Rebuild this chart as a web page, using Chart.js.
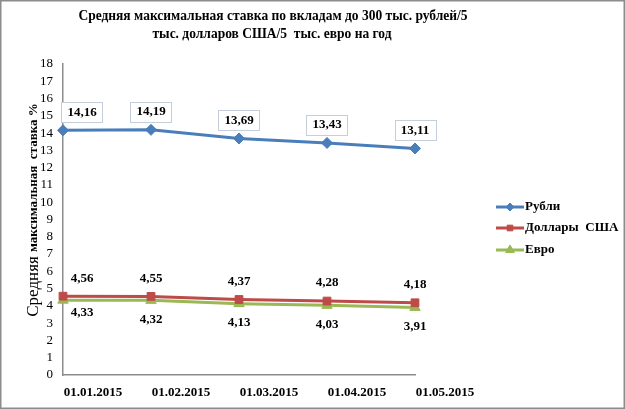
<!DOCTYPE html>
<html><head><meta charset="utf-8">
<script src="https://cdn.jsdelivr.net/npm/chart.js@4/dist/chart.umd.min.js"></script>
<style>html,body{margin:0;padding:0;background:#fff;}#wrap{width:625px;height:409px;}</style>
</head><body><div id="wrap"><canvas id="c" width="625" height="409"></canvas></div>
<script>
const categories = ['01.01.2015','01.02.2015','01.03.2015','01.04.2015','01.05.2015'];
const rub = [14.16, 14.19, 13.69, 13.43, 13.11];
const usd = [4.56, 4.55, 4.37, 4.28, 4.18];
const eur = [4.33, 4.32, 4.13, 4.03, 3.91];
const seriesNames = ['Рубли','Доллары  США','Евро'];
const yTicks = {min:0, max:18, step:1};
const titleLines = ['Средняя максимальная ставка по вкладам до 300 тыс. рублей/5','тыс. долларов США/5  тыс. евро на год'];

const SERIF = '"Liberation Serif","Times New Roman",serif';
const colors = ['#4a7ebb','#be4b48','#98b954'];
const markers = ['rectRot','rect','triangle'];
const labelPos = ['above','above','below'];

const fmt = v => v.toFixed(2).replace('.', ',');

const decor = {
  id:'decor',
  beforeDraw(chart){
    const ctx = chart.ctx;
    ctx.save();
    ctx.fillStyle = '#fff';
    ctx.fillRect(0,0,chart.width,chart.height);
    ctx.strokeStyle = '#8c8c8c';
    ctx.lineWidth = 1.5;
    ctx.strokeRect(0.75,0.75,chart.width-1.5,chart.height-1.5);
    ctx.restore();
  },
  afterDraw(chart){
    const ctx = chart.ctx;
    ctx.save();
    ctx.fillStyle = '#000';
    ctx.font = 'bold 15px ' + SERIF;
    ctx.textAlign = 'center';
    ctx.textBaseline = 'middle';
    const sx = 0.9;
    ctx.save(); ctx.translate(273, 16); ctx.scale(sx, 1); ctx.fillText(titleLines[0], 0, 0); ctx.restore();
    ctx.save(); ctx.translate(272, 34); ctx.scale(sx, 1); ctx.fillText(titleLines[1], 0, 0); ctx.restore();
    const p1 = 'Средняя ', p2 = 'максимальная  ставка %';
    const f1 = '17px ' + SERIF, f2 = 'bold 13px ' + SERIF;
    ctx.font = f1; const w1 = ctx.measureText(p1).width;
    ctx.font = f2; const w2 = ctx.measureText(p2).width;
    const total = w1 + w2;
    ctx.translate(34, 210);
    ctx.rotate(-Math.PI/2);
    ctx.textAlign = 'left';
    ctx.textBaseline = 'middle';
    ctx.font = f1; ctx.fillText(p1, -total/2, 0);
    ctx.font = f2; ctx.fillText(p2, -total/2 + w1, 0);
    ctx.restore();

    ctx.save();
    const lx = 496, ys = [207,228,250];
    chart.data.datasets.forEach((ds,i)=>{
      const y = ys[i];
      ctx.strokeStyle = ds.borderColor;
      ctx.fillStyle = ds.borderColor;
      ctx.lineWidth = 3;
      ctx.beginPath(); ctx.moveTo(lx, y); ctx.lineTo(lx+28, y); ctx.stroke();
      ctx.lineWidth = 1;
      Chart.helpers.drawPoint(ctx, {pointStyle: ds.pointStyle, radius: ds.pointStyle==='triangle'?5:4, borderWidth:1}, lx+14, y);
      ctx.fillStyle = '#000';
      ctx.font = 'bold 13px ' + SERIF;
      ctx.textAlign = 'left';
      ctx.textBaseline = 'middle';
      ctx.fillText(ds.label, lx+29, y);
    });
    ctx.restore();
  },
  afterDatasetsDraw(chart){
    const ctx = chart.ctx;
    ctx.save();
    ctx.font = 'bold 13px ' + SERIF;
    ctx.textAlign = 'center';
    ctx.textBaseline = 'middle';
    chart.data.datasets.forEach((ds,i)=>{
      const meta = chart.getDatasetMeta(i);
      meta.data.forEach((el,j)=>{
        const txt = fmt(ds.data[j]);
        let x = el.x, y = el.y;
        if (labelPos[i]==='above') { y -= 18; } else { y += (j===0 ? 12 : 19); }
        if (j===0) x += 19;
        if (i===0) {
          const w = ctx.measureText(txt).width + 12;
          ctx.fillStyle = '#fff';
          ctx.fillRect(x - w/2, y - 10, w, 20);
          ctx.strokeStyle = '#c5cfdc';
          ctx.lineWidth = 1;
          ctx.strokeRect(Math.round(x - w/2)+0.5, Math.round(y - 10)+0.5, Math.round(w), 20);
        }
        ctx.fillStyle = '#000';
        ctx.fillText(txt, x, y);
      });
    });
    ctx.restore();
  }
};

const series = [rub, usd, eur];
new Chart(document.getElementById('c'), {
  type:'line',
  data:{
    labels: categories,
    datasets: series.map((d,i)=>({
      label: seriesNames[i],
      data: d,
      borderColor: colors[i],
      backgroundColor: colors[i],
      borderWidth: 3,
      pointStyle: markers[i],
      pointRadius: i===2 ? 6 : 5.5,
      pointBorderWidth: 1,
      pointBorderColor: colors[i],
      pointBackgroundColor: colors[i],
      tension: 0,
      fill: false
    }))
  },
  options:{
    responsive:false,
    animation:false,
    devicePixelRatio:1,
    layout:{padding:{left:0, right:210, top:64, bottom:0}},
    plugins:{legend:{display:false}, title:{display:false}, tooltip:{enabled:false}},
    scales:{
      x:{
        type:'category',
        offset:false,
        grid:{display:false, drawTicks:false},
        border:{display:true, color:'#8c8c8c', width:1.5},
        ticks:{autoSkip:false, maxRotation:0, minRotation:0, padding:10, labelOffset:30, color:'#000', font:{family:SERIF, size:13, weight:'bold'}},
        afterFit(s){ s.height = 34; }
      },
      y:{
        min:yTicks.min, max:yTicks.max,
        grid:{display:false, drawTicks:false},
        border:{display:true, color:'#8c8c8c', width:1.5},
        ticks:{stepSize:yTicks.step, autoSkip:false, padding:10, color:'#000', font:{family:SERIF, size:13}},
        afterFit(s){ s.width = 63; }
      }
    }
  },
  plugins:[decor]
});
</script>
</body></html>
